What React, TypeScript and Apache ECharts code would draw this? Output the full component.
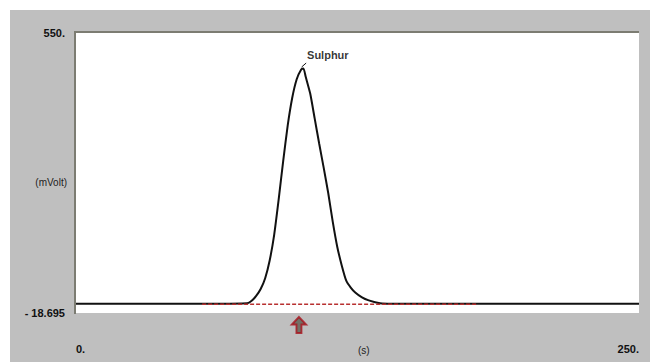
import React, { useEffect, useRef } from "react";
import * as echarts from "echarts";

// Detector signal (time in s, signal in mVolt)
const times = [0, 60, 76, 78, 80, 82, 84, 86, 88, 90, 92, 94, 96, 98, 100, 101, 102, 104, 106, 108, 110, 112, 114, 116, 118, 120, 122, 124, 127, 130, 135, 140, 200, 250];
const signal = [0, 0, 1, 6, 16, 30, 52, 88, 140, 212, 290, 362, 418, 456, 476, 478, 461, 427, 376, 325, 276, 225, 167, 116, 78, 47, 33, 23, 13, 7, 1, 0, 0, 0];

const yTickValues = [-18.695, 550];
const yTickLabels = ["- 18.695", "550."];
const xTickValues = [0, 250];
const xTickLabels = ["0.", "250."];
const yUnit = "(mVolt)";
const xUnit = "(s)";

const peakName = "Sulphur";
const peakTip = [100.2, 481];
const peakLeaderEnd = [102.2, 489];
const peakLabelAt = [102.6, 506];

const integrationStart = 56;
const integrationEnd = 178;
const integrationLevel = -1;
const markerTime = 99;

const FONT = "'Liberation Sans', Arial, sans-serif";

function pick(values: number[], labels: string[], v: number) {
  let best = 0;
  for (let i = 0; i < values.length; i++) {
    if (Math.abs(values[i] - v) < Math.abs(values[best] - v)) best = i;
  }
  return labels[best];
}

export default function App() {
  const ref = useRef<HTMLDivElement>(null);
  useEffect(() => {
    if (!ref.current) return;
    const chart = echarts.init(ref.current, null, { renderer: "svg" });
    const G = { left: 66, top: 23, width: 563, height: 280 };
    chart.setOption({
      animation: false,
      backgroundColor: "#bfbfbf",
      textStyle: { fontFamily: FONT },
      grid: { ...G, show: true, backgroundColor: "#ffffff", borderWidth: 0 },
      xAxis: {
        type: "value",
        min: 0,
        max: 250,
        axisLine: { show: false },
        axisTick: { show: false },
        splitLine: { show: false },
        axisLabel: {
          customValues: xTickValues,
          formatter: (v: number) => pick(xTickValues, xTickLabels, v),
          margin: 30,
          fontFamily: FONT,
          fontWeight: "bold",
          fontSize: 11,
          color: "#111",
          alignMinLabel: "left",
          alignMaxLabel: "right",
        },
      },
      yAxis: {
        type: "value",
        min: -18.695,
        max: 550,
        axisLine: { show: false },
        axisTick: { show: false },
        splitLine: { show: false },
        axisLabel: {
          customValues: yTickValues,
          formatter: (v: number) => pick(yTickValues, yTickLabels, v),
          margin: 11,
          fontFamily: FONT,
          fontWeight: "bold",
          fontSize: 11,
          color: "#111",
        },
      },
      graphic: [
        {
          type: "polyline",
          shape: {
            points: [
              [G.left - 1, G.top + G.height + 1],
              [G.left - 1, G.top - 1],
              [G.left + G.width, G.top - 1],
            ],
          },
          style: { stroke: "#7c7c72", lineWidth: 2, fill: null },
          z: 10,
        },
        {
          type: "text",
          x: 57,
          y: 172,
          style: {
            text: yUnit,
            fontFamily: FONT,
            fontSize: 10,
            fill: "#222",
            align: "right",
            verticalAlign: "middle",
          },
        },
        {
          type: "text",
          x: 348,
          y: 340,
          style: {
            text: xUnit,
            fontFamily: FONT,
            fontSize: 10,
            fill: "#222",
            align: "left",
            verticalAlign: "middle",
          },
        },
      ],
      series: [
        {
          type: "line",
          data: times.map((t, i) => [t, signal[i]]),
          smooth: 0.2,
          showSymbol: false,
          lineStyle: { color: "#111", width: 2 },
          z: 2,
        },
        {
          type: "line",
          data: [
            [integrationStart, integrationLevel],
            [integrationEnd, integrationLevel],
          ],
          showSymbol: false,
          lineStyle: { color: "#b83030", width: 1.5, type: [4, 2] },
          z: 3,
        },
        {
          type: "line",
          data: [peakTip, peakLeaderEnd],
          showSymbol: false,
          lineStyle: { color: "#111", width: 1 },
          z: 3,
        },
        {
          type: "scatter",
          data: [peakLabelAt],
          symbolSize: 0,
          label: {
            show: true,
            position: "right",
            distance: 0,
            formatter: peakName,
            fontFamily: FONT,
            fontWeight: "bold",
            fontSize: 11,
            color: "#000",
          },
          z: 4,
        },
        {
          type: "scatter",
          data: [[markerTime, -18.695]],
          clip: false,
          symbol: "path://M7 0 L14 7 L9.5 7 L9.5 15 L4.5 15 L4.5 7 L0 7 Z",
          symbolSize: [14, 16],
          symbolOffset: [0, 12],
          itemStyle: { color: "#5f5c50", borderColor: "#a8101a", borderWidth: 2 },
          z: 5,
        },
      ],
    });
    return () => chart.dispose();
  }, []);
  return (
    <div style={{ position: "absolute", left: 0, top: 0, width: 650, height: 362, background: "#ffffff" }}>
      <div ref={ref} style={{ position: "absolute", left: 10, top: 10, width: 640, height: 352 }} />
    </div>
  );
}
